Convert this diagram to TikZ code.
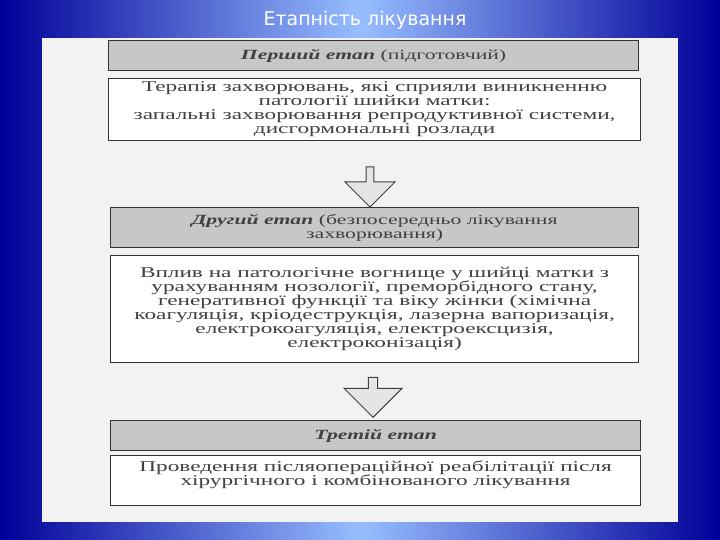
\documentclass[tikz,border=0pt]{standalone}
\usepackage{fontspec}
\setmainfont{Liberation Serif}
\newfontfamily\wide[FakeStretch=1.55]{Liberation Serif}
\newfontfamily\titlefont{DejaVu Sans}
\usetikzlibrary{shapes.arrows}
\begin{document}
\begin{tikzpicture}[x=1pt,y=-1pt,
  hdr/.style={draw=black!80,line width=1.2pt,fill=black!22,align=center,font=\wide\fontsize{14}{14}\selectfont,text=black!75,anchor=north west,inner xsep=2pt},
  bodybox/.style={draw=black!80,line width=1.2pt,fill=white,align=center,font=\wide\fontsize{15}{14}\selectfont,text=black!75,anchor=north west,inner xsep=2pt},
  bigarrow/.style={single arrow,draw=black!75,fill=black!10,line width=1pt,shape border rotate=270,minimum width=50pt,minimum height=40pt,single arrow head extend=8pt,inner sep=1pt}]
\useasboundingbox (0,0) rectangle (720,540);
\shade[left color=blue!60!black,right color=blue!60!black,middle color=blue!30!white!85!cyan] (0,0) rectangle (720,540);
\fill[black!5] (42,38) rectangle (678,522);
\node[font=\titlefont\fontsize{19}{20}\selectfont,text=white] (title) at (365,20) {Етапність лікування};
\node[hdr,minimum width=530pt,minimum height=30pt] (h1) at (108,40) {\textbf{\textit{Перший етап}} (підготовчий)};
\node[bodybox,minimum width=532pt,minimum height=60pt] (b1) at (108,78) {Терапія захворювань, які сприяли виникненню\\патології шийки матки:\\запальні захворювання репродуктивної системи,\\дисгормональні розлади};
\node[bigarrow] (a1) at (370,185) {};
\node[hdr,minimum width=528pt,minimum height=40pt] (h2) at (110,207) {\textbf{\textit{Другий етап}} (безпосередньо лікування\\захворювання)};
\node[bodybox,minimum width=528pt,minimum height=107pt] (b2) at (110,255) {Вплив на патологічне вогнище у шийці матки з\\урахуванням нозології, преморбідного стану,\\генеративної функції та віку жінки (хімічна\\коагуляція, кріодеструкція, лазерна вапоризація,\\електрокоагуляція, електроексцизія,\\електроконізація)};
\node[bigarrow,minimum width=58pt] (a2) at (373,395) {};
\node[hdr,minimum width=530pt,minimum height=30pt] (h3) at (110,420) {\textbf{\textit{Третій етап}}};
\node[bodybox,minimum width=530pt,minimum height=50pt,text depth=14pt] (b3) at (110,455) {Проведення післяопераційної реабілітації після\\хірургічного і комбінованого лікування};
\end{tikzpicture}
\end{document}
